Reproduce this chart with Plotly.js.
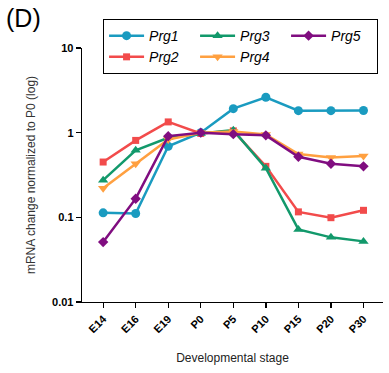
<!DOCTYPE html>
<html>
<head>
<meta charset="utf-8">
<script src="https://cdn.plot.ly/plotly-3.0.1.min.js"></script>
<style>html,body{margin:0;padding:0;background:#fff;}#chart{width:389px;height:373px;}</style>
</head>
<body>
<div id="chart"></div>
<script>
var stages = ["E14","E16","E19","P0","P5","P10","P15","P20","P30"];
var prg1 = [0.113, 0.111, 0.69, 1.0, 1.92, 2.62, 1.82, 1.82, 1.83];
var prg2 = [0.45, 0.81, 1.34, 0.98, 1.05, 0.40, 0.116, 0.099, 0.121];
var prg3 = [0.275, 0.62, 0.87, 0.98, 1.07, 0.38, 0.072, 0.058, 0.052];
var prg4 = [0.22, 0.43, 0.83, 1.0, 1.03, 0.95, 0.56, 0.51, 0.53];
var prg5 = [0.051, 0.166, 0.91, 1.0, 0.96, 0.93, 0.52, 0.43, 0.40];
var names = ["Prg1","Prg2","Prg3","Prg4","Prg5"];
var seriesList = [prg1, prg2, prg3, prg4, prg5];
var colors = ["#1a9bc0","#f24b4b","#12996b","#ffa040","#800d80"];
var symbols = ["circle","square","triangle-up","triangle-down","diamond"];
var ranks = [1, 4, 2, 5, 3];
var sizes = [9, 7, 9, 9, 8];

var FONT = "Liberation Sans, Arial, sans-serif";
var traces = names.map(function(n, i){
  return {
    x: stages, y: seriesList[i], name: n, type: "scatter", mode: "lines+markers",
    line: {color: colors[i], width: 2.5},
    marker: {color: colors[i], symbol: symbols[i], size: sizes[i]},
    legendrank: ranks[i]
  };
});

var layout = {
  width: 389, height: 373,
  margin: {l: 82, r: 6, t: 48, b: 71},
  paper_bgcolor: "#fff", plot_bgcolor: "#fff",
  showlegend: true,
  font: {family: FONT, color: "#000"},
  legend: {
    orientation: "h", x: 0.07, xanchor: "left", y: 1.114, yanchor: "top",
    bordercolor: "#000", borderwidth: 1, bgcolor: "#fff",
    font: {family: FONT, size: 14, style: "italic", color: "#000"},
    entrywidth: 41, tracegroupgap: 0, itemwidth: 35
  },
  xaxis: {
    type: "category", range: [-0.65, 8.6],
    showline: true, linecolor: "#000", linewidth: 1.3,
    ticks: "outside", ticklen: 5, tickwidth: 1.3, tickcolor: "#000",
    tickangle: -45, showgrid: false, zeroline: false,
    tickfont: {family: FONT, size: 11, weight: "bold", color: "#000"},
    title: {text: "Developmental stage", font: {family: FONT, size: 12, color: "#222"}, standoff: 19}
  },
  yaxis: {
    type: "log", range: [-2, 1],
    showline: true, linecolor: "#000", linewidth: 1.3,
    ticks: "outside", ticklen: 5, tickwidth: 1.3, tickcolor: "#000",
    tickmode: "array", tickvals: [0.01, 0.1, 1, 10], ticktext: ["0.01","0.1","1","10"],
    showgrid: false, zeroline: false,
    tickfont: {family: FONT, size: 11, weight: "bold", color: "#000"},
    title: {text: "mRNA change normalized to P0 (log)", font: {family: FONT, size: 12, color: "#333"}, standoff: 14}
  },
  annotations: [{
    text: "(D)", xref: "paper", yref: "paper", x: -0.258, y: 1.055,
    xanchor: "left", yanchor: "bottom", showarrow: false,
    font: {family: FONT, size: 25, color: "#000"}
  }]
};

Plotly.newPlot("chart", traces, layout, {displayModeBar: false, staticPlot: true});
</script>
</body>
</html>
